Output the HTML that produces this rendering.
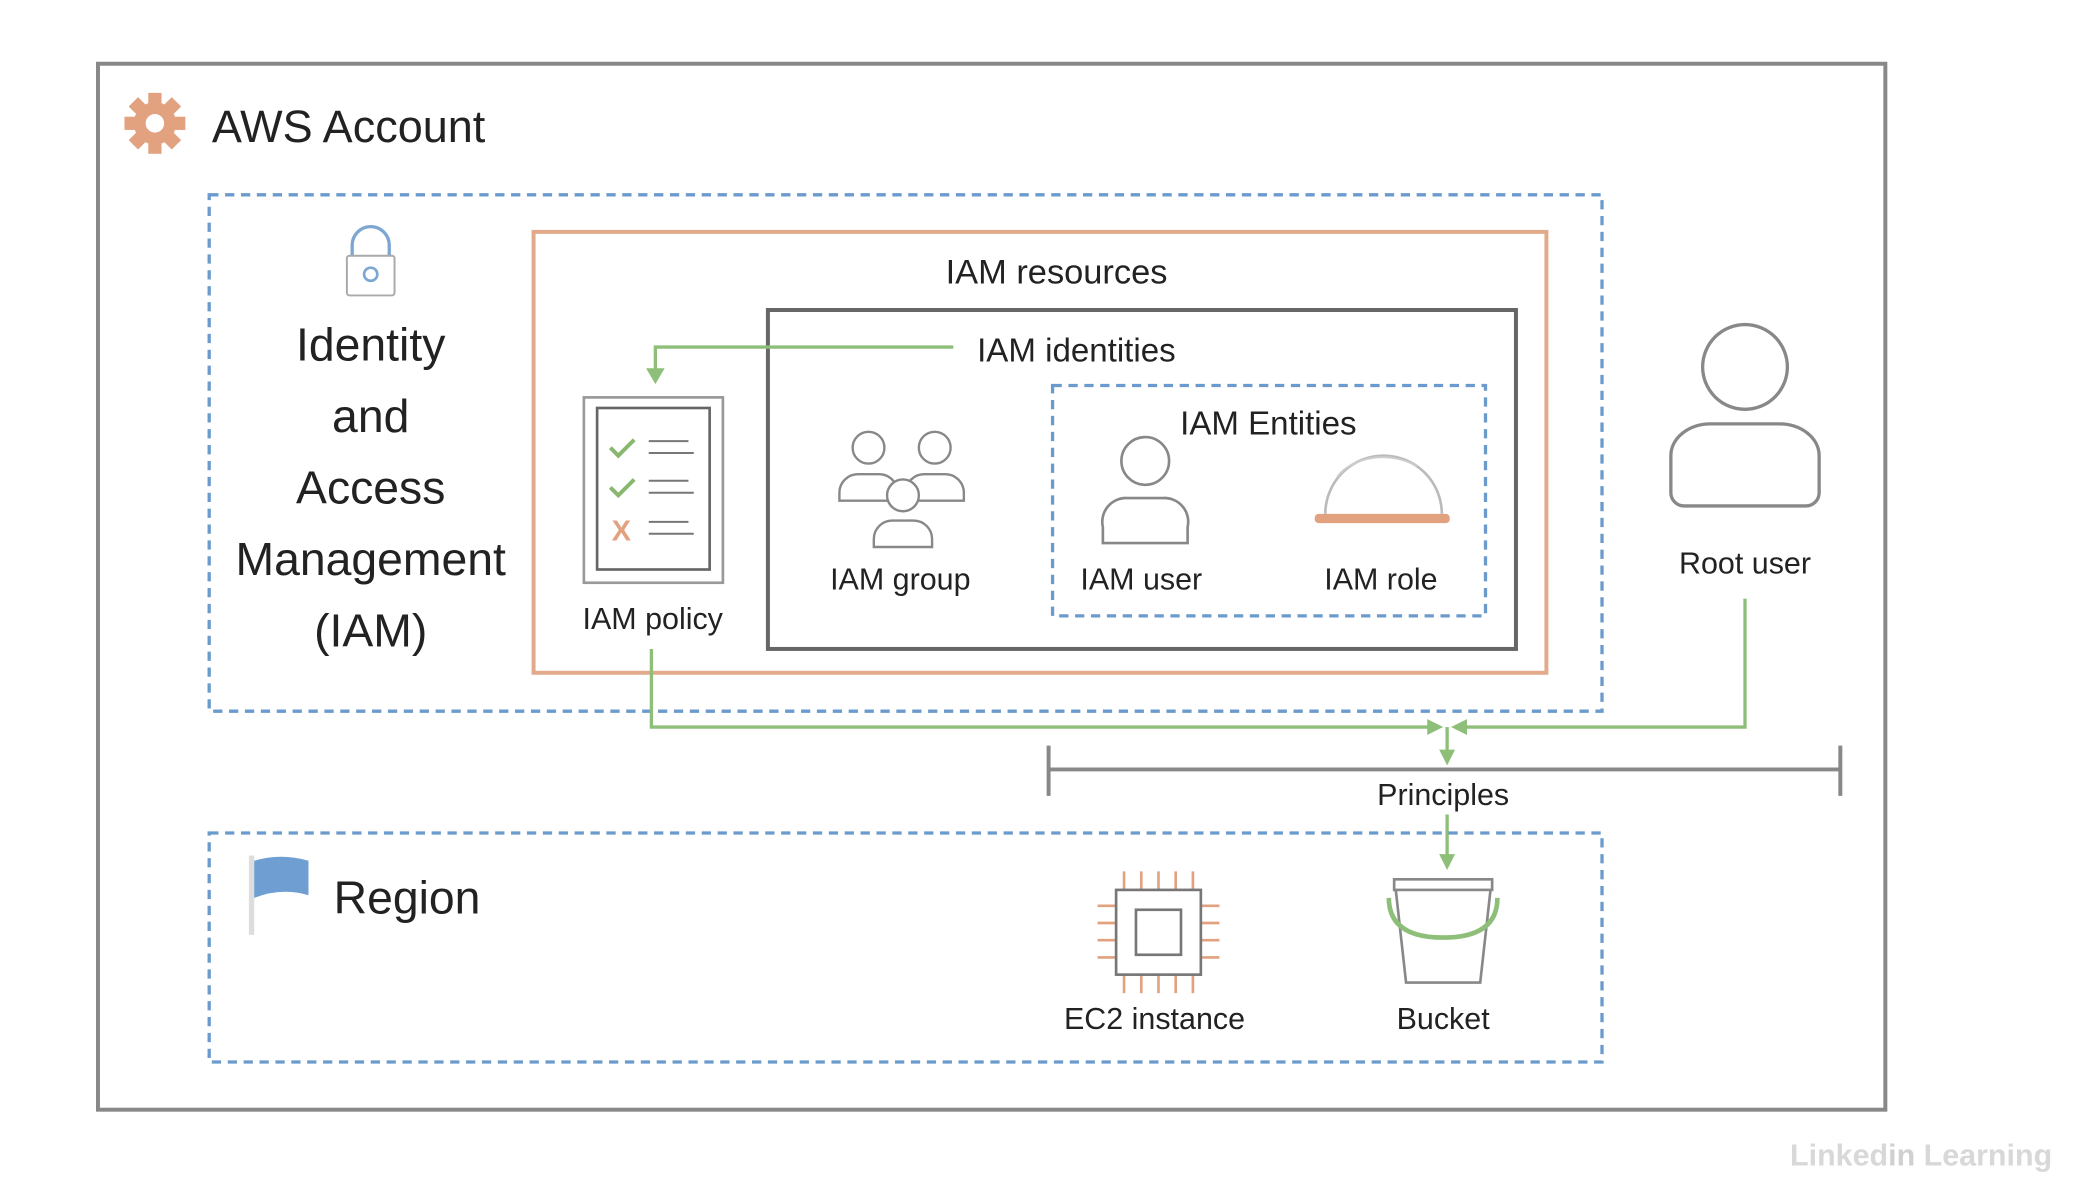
<!DOCTYPE html>
<html><head><meta charset="utf-8"><style>
html,body{margin:0;padding:0;background:#fff;}
svg{display:block;}
text{font-family:"Liberation Sans",sans-serif;fill:#222;}
</style></head><body>
<svg width="2076" height="1188" viewBox="0 0 1568 897" xmlns="http://www.w3.org/2000/svg">
<rect x="0" y="0" width="1568" height="897" fill="#fff"/>
<rect x="74" y="48" width="1350" height="790" fill="none" stroke="#888" stroke-width="3"/>
<g transform="translate(117,93)" fill="#e2a17f">
<circle r="16"/>
<g><rect x="-5" y="-23" width="10" height="46"/><rect x="-23" y="-5" width="46" height="10"/>
<rect x="-5" y="-23" width="10" height="46" transform="rotate(45)"/><rect x="-5" y="-23" width="10" height="46" transform="rotate(-45)"/></g>
<circle r="7" fill="#fff"/>
</g>
<text x="160" y="107" font-size="34">AWS Account</text>
<rect x="158" y="147" width="1052" height="390" fill="none" stroke="#6b9bcc" stroke-width="2.5" stroke-dasharray="7,5"/>
<g fill="none" stroke="#7da6d2" stroke-width="2.5">
<path d="M266,193 v-8 a14,14 0 0 1 28,0 v8"/>
<rect x="262" y="193" width="36" height="30" rx="2" stroke="#aaa" stroke-width="1.5"/>
<circle cx="280" cy="207" r="5" stroke-width="2"/>
</g>
<g font-size="35" text-anchor="middle">
<text x="280" y="272">Identity</text><text x="280" y="326">and</text><text x="280" y="380">Access</text>
<text x="280" y="434">Management</text><text x="280" y="488">(IAM)</text></g>
<rect x="403" y="175" width="765" height="333" fill="none" stroke="#e2aa8a" stroke-width="3"/>
<text x="798" y="214" font-size="26" text-anchor="middle">IAM resources</text>
<rect x="580" y="234" width="565" height="256" fill="none" stroke="#666" stroke-width="3"/>
<text x="738" y="273" font-size="25">IAM identities</text>
<g stroke="#8dbf78" stroke-width="2.5" fill="none">
<path d="M720,262 H495 V282"/>
<path d="M492,490 V549 H1084"/>
<path d="M1318,452 V549 H1102"/>
<path d="M1093,549 V572"/>
<path d="M1093,615 V650"/>
</g>
<g fill="#8dbf78">
<path d="M488,278 L502,278 L495,290 Z"/>
<path d="M1078,543 L1090,549 L1078,555 Z"/>
<path d="M1108,543 L1096,549 L1108,555 Z"/>
<path d="M1087,566 L1099,566 L1093,578 Z"/>
<path d="M1087,645 L1099,645 L1093,657 Z"/>
</g>
<rect x="441" y="300" width="105" height="140" fill="#fff" stroke="#999" stroke-width="2"/>
<rect x="451" y="308" width="85" height="122" fill="none" stroke="#666" stroke-width="2"/>
<g stroke="#88b86f" stroke-width="3" fill="none"><path d="M461,338 l6,6 l12,-12"/><path d="M461,368 l6,6 l12,-12"/></g>
<text x="462" y="408" font-size="22" style="fill:#e2a17f;font-weight:bold">X</text>
<g stroke="#777" stroke-width="1.5"><path d="M490,333 h30 M490,342 h34 M490,363 h30 M490,372 h34 M490,394 h30 M490,403 h34"/></g>
<text x="493" y="475" font-size="23" text-anchor="middle">IAM policy</text>
<g fill="#fff" stroke="#888" stroke-width="1.8">
<path d="M634,378 v-6 a14,14 0 0 1 14,-14 h16 a14,14 0 0 1 14,14 v6 z"/><circle cx="656" cy="338" r="12"/>
<path d="M684,378 v-6 a14,14 0 0 1 14,-14 h16 a14,14 0 0 1 14,14 v6 z"/><circle cx="706" cy="338" r="12"/>
<path d="M660,413 v-6 a14,14 0 0 1 14,-14 h16 a14,14 0 0 1 14,14 v6 z"/><circle cx="682" cy="374" r="12"/>
</g>
<text x="680" y="445" font-size="23" text-anchor="middle">IAM group</text>
<rect x="795" y="291" width="327" height="174" fill="none" stroke="#6b9bcc" stroke-width="2.5" stroke-dasharray="7,5"/>
<text x="958" y="328" font-size="25" text-anchor="middle">IAM Entities</text>
<g fill="#fff" stroke="#888" stroke-width="2">
<path d="M833,410 v-12 a18,18 0 0 1 18,-22 h28 a18,18 0 0 1 18,22 v12 z"/><circle cx="865" cy="348" r="18"/>
</g>
<text x="862" y="445" font-size="23" text-anchor="middle">IAM user</text>
<path d="M1001,388 a44,44 0 0 1 88,0" fill="#fff" stroke="#bbb" stroke-width="2"/>
<path d="M1010,360 a40,30 0 0 1 60,-8" fill="none" stroke="#ccc" stroke-width="1.5"/>
<rect x="993" y="388" width="102" height="7" rx="3" fill="#e2a17f"/>
<text x="1043" y="445" font-size="23" text-anchor="middle">IAM role</text>
<g fill="#fff" stroke="#888" stroke-width="2.5">
<path d="M1262,372 v-28 a30,24 0 0 1 30,-24 h52 a30,24 0 0 1 30,24 v28 a10,10 0 0 1 -10,10 h-92 a10,10 0 0 1 -10,-10 z"/>
<circle cx="1318" cy="277" r="32"/>
</g>
<text x="1318" y="433" font-size="23" text-anchor="middle">Root user</text>
<g stroke="#888" stroke-width="3"><path d="M792,581 H1390 M792,563 V601 M1390,563 V601"/></g>
<rect x="1030" y="586" width="120" height="28" fill="#fff"/>
<text x="1090" y="608" font-size="23" text-anchor="middle">Principles</text>
<rect x="158" y="629" width="1052" height="173" fill="none" stroke="#6b9bcc" stroke-width="2.5" stroke-dasharray="7,5"/>
<rect x="188" y="646" width="4" height="60" fill="#ddd"/>
<path d="M192,650 q20,-6 41,0 v26 q-20,-6 -41,2 z" fill="#6f9fd2"/>
<text x="252" y="690" font-size="35">Region</text>
<g stroke="#e2a17f" stroke-width="2"><path d="M849,658 v14 M862,658 v14 M875,658 v14 M888,658 v14 M901,658 v14 M849,736 v14 M862,736 v14 M875,736 v14 M888,736 v14 M901,736 v14 M829,684 h14 M829,697 h14 M829,710 h14 M829,723 h14 M907,684 h14 M907,697 h14 M907,710 h14 M907,723 h14"/></g>
<rect x="843" y="672" width="64" height="64" fill="#fff" stroke="#777" stroke-width="2"/>
<rect x="858" y="687" width="34" height="34" fill="none" stroke="#777" stroke-width="2"/>
<text x="872" y="777" font-size="23" text-anchor="middle">EC2 instance</text>
<path d="M1054,670 h72 l-8,72 h-56 z" fill="#fff" stroke="#888" stroke-width="2"/>
<rect x="1053" y="664" width="74" height="8" fill="#fff" stroke="#888" stroke-width="2"/>
<path d="M1049,678 q0,30 41,30 q41,0 41,-30" fill="none" stroke="#8dbf78" stroke-width="3.5"/>
<text x="1090" y="777" font-size="23" text-anchor="middle">Bucket</text>
<text x="1352" y="880" font-size="23" style="fill:#d8d8d8;font-weight:bold">Linked<tspan style="fill:#d0d0d0">in</tspan> Learning</text>
</svg>
</body></html>
